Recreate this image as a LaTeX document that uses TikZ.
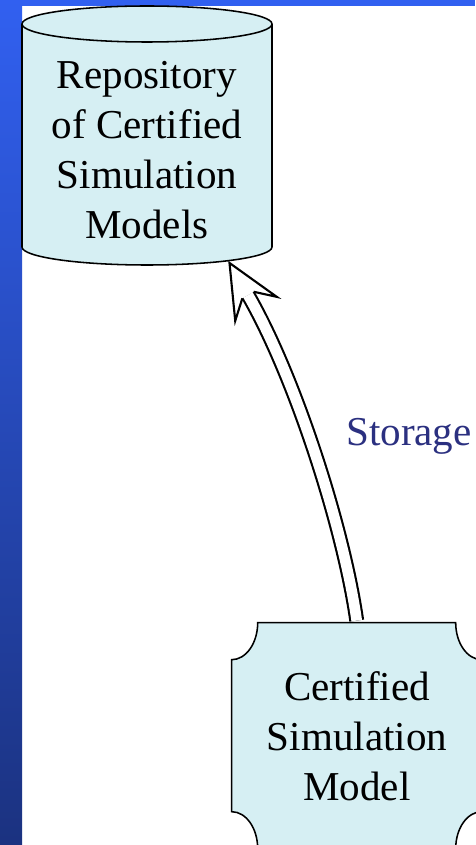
\documentclass[tikz,border=0pt]{standalone}
\usepackage{fontspec}
\setmainfont{Liberation Serif}
\usepackage{xcolor}
\usetikzlibrary{backgrounds, decorations.markings}

\definecolor{tankfill}{RGB}{214,239,243}
\definecolor{frametop}{RGB}{49,96,240}
\definecolor{framebottom}{RGB}{27,50,128}
\definecolor{labelnavy}{RGB}{43,48,128}

\tikzset{
	bigtext/.style = {font=\fontsize{29.2}{35.6}\selectfont, align=center},
	tank/.style = {fill=tankfill, draw=black, line width=1.1pt},
}

\begin{document}
\begin{tikzpicture}[x=0.025cm, y=0.025cm]
		%page size
		\useasboundingbox (0,0) rectangle (475,-845);
		
		%sizes of the shapes
		\def\tankrx{125};
		\def\tankry{18};
		\def\cornerx{26};
		\def\cornery{37};
		
		%texts
		\node (repo) [bigtext] at (147,-150.5) {Repository\\of Certified\\Simulation\\Models};
		\node (model) [bigtext, minimum width=6.25cm, minimum height=5.65cm] at (357,-736) {Certified\\Simulation\\Model};
		\node (storage) [anchor=base, font=\fontsize{29.2}{35.6}\selectfont, text=labelnavy] at (409,-445) {Storage};
		\coordinate (stem end) at (248,-295);
		
		\begin{scope}[on background layer]
			%frame
			\fill [white] (0,0) rectangle (475,-845);
			\shade [top color=frametop, bottom color=framebottom] (0,0) rectangle (22,-845);
			\fill [frametop] (22,0) rectangle (475,-6);
			
			%repository as a cylinder
			\draw [tank] (22,-24) -- (22,-247) arc [start angle=180, end angle=360, x radius=\tankrx, y radius=\tankry] -- (272,-24) arc [start angle=0, end angle=180, x radius=\tankrx, y radius=\tankry] -- cycle;
			\draw [tank, fill=none] (22,-24) arc [start angle=180, end angle=360, x radius=\tankrx, y radius=\tankry];
			
			%model with cut corners
			\draw [tank] (model.north west) ++(\cornerx,0) -- ++(198,0)
				arc [start angle=180, end angle=270, x radius=\cornerx, y radius=\cornery] -- ++(0,-152)
				arc [start angle=90, end angle=180, x radius=\cornerx, y radius=\cornery] -- ++(-198,0)
				arc [start angle=0, end angle=90, x radius=\cornerx, y radius=\cornery] -- ++(0,152)
				arc [start angle=270, end angle=360, x radius=\cornerx, y radius=\cornery] -- cycle;
		\end{scope}
		
		%storage arrow
		\path [postaction={draw, line width=1.5pt, double=white, double distance=7.6pt, shorten <=1.5pt},
			postaction={decorate, decoration={markings, mark=at position 1 with {
				\draw [line width=1.5pt, fill=white, line join=miter] (0,6.5) -- (-16,24) -- (37,0) -- (-16,-24) -- (0,-6.5);}}}]
			(model.north) to [out=98, in=-60, looseness=0.7] (stem end);
	\end{tikzpicture}
\end{document}
